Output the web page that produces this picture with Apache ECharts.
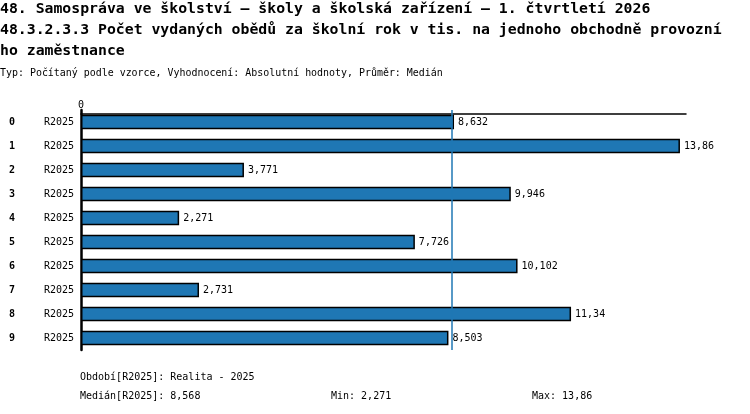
<!DOCTYPE html>
<html><head><meta charset="utf-8">
<script src="https://cdn.jsdelivr.net/npm/echarts@6/dist/echarts.min.js"></script>
<style>html,body{margin:0;padding:0;background:#fff}#c{width:750px;height:414px}</style>
</head><body><div id="c"></div>
<script>
const titleLines = [
  '48. Samospráva ve školství – školy a školská zařízení – 1. čtvrtletí 2026',
  '48.3.2.3.3 Počet vydaných obědů za školní rok v tis. na jednoho obchodně provozní',
  'ho zaměstnance'
];
const subtitleText = 'Typ: Počítaný podle vzorce, Vyhodnocení: Absolutní hodnoty, Průměr: Medián';
const categories = ['0','1','2','3','4','5','6','7','8','9'];
const periodLabels = ['R2025','R2025','R2025','R2025','R2025','R2025','R2025','R2025','R2025','R2025'];
const values = [8.632, 13.86, 3.771, 9.946, 2.271, 7.726, 10.102, 2.731, 11.34, 8.503];
const median = 8.568;
const minVal = 2.271;
const maxVal = 13.86;
const xTicks = [0];
const periodNote = 'Období[R2025]: Realita - 2025';

const fmt = v => String(v).replace('.', ',');
const mono = 'DejaVu Sans Mono';

const chart = echarts.init(document.getElementById('c'), null, {renderer:'canvas'});
chart.setOption({
  animation: false,
  backgroundColor: '#fff',
  title: [
    {text: titleLines.join('\n'), left: 0, top: -1, padding: 0,
     textStyle: {fontFamily: mono, fontSize: 14.8, fontWeight: 'bold', color: '#000', lineHeight: 21}},
    {text: subtitleText, left: 0, top: 68, padding: 0,
     textStyle: {fontFamily: mono, fontSize: 9.95, fontWeight: 'normal', color: '#000'}}
  ],
  grid: {left: 81, width: 605, top: 110, height: 240, containLabel: false},
  xAxis: {
    type: 'value', position: 'top', min: 0, max: 14, offset: -4,
    splitLine: {show: false},
    axisTick: {show: false},
    axisLine: {show: true, lineStyle: {color: '#000', width: 1.5}},
    axisLabel: {show: true, margin: 4, fontFamily: mono, fontSize: 10, color: '#000',
      formatter: v => xTicks.indexOf(v) >= 0 ? String(v) : ''}
  },
  yAxis: [
    {type: 'category', data: categories, inverse: true, position: 'left',
     axisLine: {show: true, onZero: false, lineStyle: {color: '#000', width: 2.5}},
     axisTick: {show: false}, splitLine: {show: false},
     axisLabel: {margin: 7, fontFamily: mono, fontSize: 10, color: '#000',
       formatter: (v, i) => periodLabels[i]}},
    {type: 'category', data: categories, inverse: true, position: 'left',
     axisLine: {show: false}, axisTick: {show: false}, splitLine: {show: false},
     axisLabel: {margin: 66, fontFamily: mono, fontSize: 10, fontWeight: 'bold', color: '#000'}}
  ],
  series: [{
    type: 'bar', yAxisIndex: 0, data: values, barWidth: 14.5,
    itemStyle: {color: '#1f77b4', borderColor: '#000', borderWidth: 1.5},
    label: {show: true, position: 'right', distance: 4, fontFamily: mono, fontSize: 10, color: '#000',
      formatter: p => fmt(p.value)},
    markLine: {silent: true, symbol: 'none', label: {show: false},
      lineStyle: {color: '#1f77b4', width: 1.5, type: 'solid', opacity: 1},
      data: [{xAxis: median}]}
  }],
  graphic: [
    {type: 'text', left: 80, top: 372, style: {text: periodNote, font: '10px "DejaVu Sans Mono"', fill: '#000'}},
    {type: 'text', left: 80, top: 391, style: {text: 'Medián[R2025]: ' + fmt(median), font: '10px "DejaVu Sans Mono"', fill: '#000'}},
    {type: 'text', left: 331, top: 391, style: {text: 'Min: ' + fmt(minVal), font: '10px "DejaVu Sans Mono"', fill: '#000'}},
    {type: 'text', left: 532, top: 391, style: {text: 'Max: ' + fmt(maxVal), font: '10px "DejaVu Sans Mono"', fill: '#000'}}
  ]
});
</script></body></html>
